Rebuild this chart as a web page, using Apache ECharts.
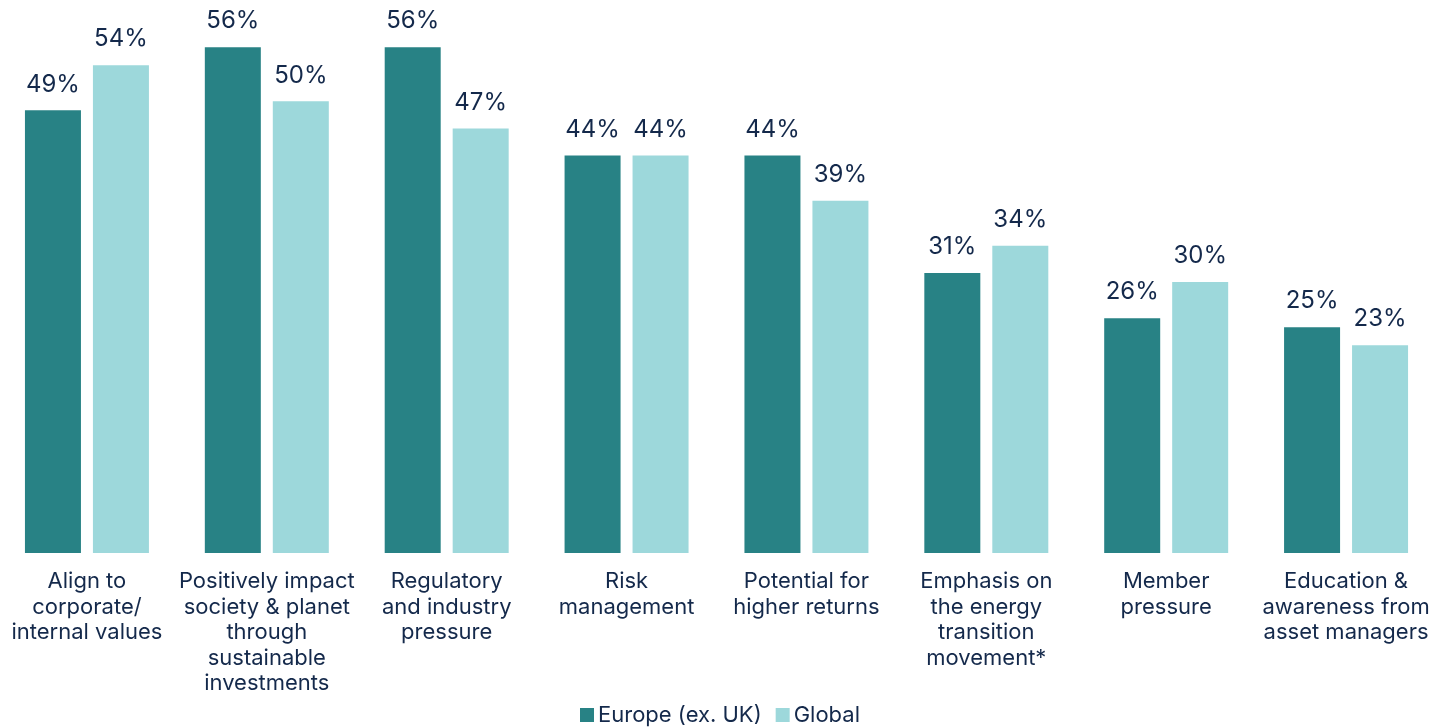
<!DOCTYPE html>
<html>
<head>
<meta charset="utf-8">
<script src="https://cdn.jsdelivr.net/npm/echarts@6/dist/echarts.min.js"></script>
<style>
html,body{margin:0;padding:0;background:#fff;}
#chart{width:1440px;height:728px;}
</style>
</head>
<body>
<div id="chart"></div>
<script>
const categories = [
  "Align to\ncorporate/\ninternal values",
  "Positively impact\nsociety & planet\nthrough\nsustainable\ninvestments",
  "Regulatory\nand industry\npressure",
  "Risk\nmanagement",
  "Potential for\nhigher returns",
  "Emphasis on\nthe energy\ntransition\nmovement*",
  "Member\npressure",
  "Education &\nawareness from\nasset managers"
];
const seriesNames = ["Europe (ex. UK)", "Global"];
const europe = [49, 56, 56, 44, 44, 31, 26, 25];
const global = [54, 50, 47, 44, 39, 34, 30, 23];

const textColor = "#14294b";
const fontFamily = "Inter, Lato, 'Noto Sans', sans-serif";

const chart = echarts.init(document.getElementById('chart'));
const labelCfg = {
  show: true,
  position: 'top',
  distance: 14,
  formatter: '{c}%',
  color: textColor,
  fontSize: 24,
  fontFamily: fontFamily
};
chart.setOption({
  animation: false,
  textStyle: { fontFamily: fontFamily },
  grid: { left: -3, right: 4, top: 11, bottom: 175, containLabel: false, outerBoundsMode: 'none' },
  legend: {
    bottom: -3,
    left: 'center',
    itemWidth: 14,
    itemHeight: 14,
    itemGap: 14,
    icon: 'rect',
    textStyle: { color: textColor, fontSize: 22, fontFamily: fontFamily, padding: [0, 0, 0, -1] },
    data: seriesNames
  },
  xAxis: {
    type: 'category',
    data: categories,
    axisLine: { show: false },
    axisTick: { show: false },
    axisLabel: {
      interval: 0,
      margin: 16,
      color: textColor,
      fontSize: 22,
      lineHeight: 25.5,
      fontFamily: fontFamily,
      align: 'center'
    }
  },
  yAxis: {
    type: 'value',
    min: 0,
    max: 60,
    show: false,
    splitLine: { show: false }
  },
  series: [
    {
      name: seriesNames[0],
      type: 'bar',
      data: europe,
      barWidth: 56,
      barGap: '21.4%',
      itemStyle: { color: '#288285' },
      label: labelCfg
    },
    {
      name: seriesNames[1],
      type: 'bar',
      data: global,
      barWidth: 56,
      barGap: '21.4%',
      itemStyle: { color: '#9dd8db' },
      label: labelCfg
    }
  ]
});
</script>
</body>
</html>
